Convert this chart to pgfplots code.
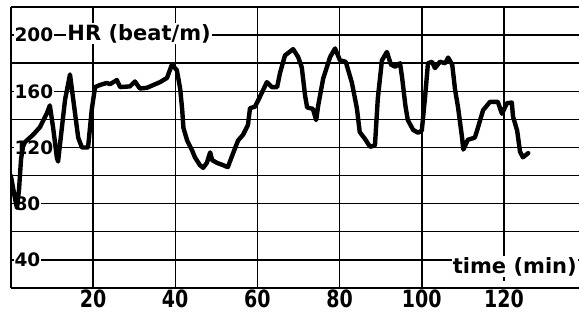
\documentclass[border=0pt]{standalone}
\usepackage{fontspec}
\setmainfont{DejaVu Sans}
\usepackage{graphicx}
\usepackage{pgfplots}
\pgfplotsset{compat=1.18}
\begin{document}
\begin{tikzpicture}
\begin{axis}[
  at={(10.8pt,25pt)}, anchor=south west,
  scale only axis, width=575.4pt, height=281pt,
  xmin=0, xmax=140, ymin=20, ymax=220,
  set layers,
  axis x line=box, axis y line=left,
  axis line style={black, line width=1.6pt, -},
  xtick={20,40,60,80,100,120},
  xticklabels={\scalebox{1}[1.25]{20},\scalebox{1}[1.25]{40},\scalebox{1}[1.25]{60},\scalebox{1}[1.25]{80},\scalebox{1}[1.25]{100},\scalebox{1}[1.25]{120}},
  ytick={40,80,120,160,200},
  yticklabels={40,80,120,160,200},
  minor y tick num=1,
  major tick length=0pt, minor tick length=0pt,
  grid=both,
  major grid style={black, line width=1.4pt},
  minor grid style={black, line width=1.4pt},
  major x grid style={black, line width=1.4pt, shorten <=7pt},
  xticklabel style={font=\fontsize{19}{21}\selectfont\bfseries, anchor=north, inner sep=1pt, yshift=-1pt},
  yticklabel style={font=\fontsize{18.5}{20}\selectfont\bfseries, anchor=west, inner sep=1pt, xshift=2.5pt, fill=white},
  xlabel={time (min)},
  ylabel={HR (beat/m)},
  every axis x label/.style={at={(axis description cs:0.9857,0.053)}, anchor=base east, fill=white, inner sep=1pt, font=\fontsize{21}{23}\selectfont\bfseries},
  every axis y label/.style={at={(axis description cs:0.0964,0.882)}, anchor=base west, fill=white, inner sep=1pt, font=\fontsize{21}{23}\selectfont\bfseries},
]
\addplot[black, line width=4.4pt, line join=round, line cap=round] coordinates {
(0,100) (0.5,92) (1,84) (1.5,77) (2,90) (2.5,112) (3,121) (3.5,124) (5.4,129) (7.1,134.5)
(8.8,144.5) (9.5,150) (10.3,134) (11.2,113) (11.5,110) (12,123) (13.2,154) (14.4,172) (15.2,154)
(16.4,127) (17.3,120) (18.8,120) (19.7,147) (20.5,163) (21.7,164.5) (23.4,166) (24.1,165)
(25.8,168) (26.6,163) (29,163.5) (30.2,167) (31.4,162) (33.1,162.5) (36.3,166.5) (38,169.5)
(39.2,179) (40.4,175) (41.2,162) (41.7,147) (42,134) (42.9,125) (44.1,118) (44.8,113)
(46,107.5) (46.8,105.5) (47.7,109) (48.5,116.5) (49,111) (50.2,109) (51.6,107.5) (52.8,106)
(54.1,116) (55.3,125) (56.5,129) (57.7,136) (58.2,148) (59.4,149) (60.6,156) (62.3,166.5)
(63.5,163) (64.8,163) (65.5,173) (66.7,185.5) (68.7,190) (69.9,184.5) (70.8,177) (71.6,157)
(72.1,148.5) (73.5,147.5) (74.3,139.5) (74.8,150) (76,169) (77.7,184.5) (78.9,190.5)
(80.1,182) (81.5,181) (83,166) (84.2,148) (84.9,131) (86.2,126) (87.4,120.5) (88.6,121.5)
(89.3,155) (90.3,182) (91.5,188) (92.5,179) (93.5,177.5) (94.7,180) (95.2,170) (96,150)
(96.6,139.5) (97.9,132.5) (99.1,130.5) (100,132) (100.8,156) (101.5,180) (102.5,181)
(103.2,176.5) (104.4,181) (105.7,180) (106.4,184) (107.4,179) (108.1,161) (108.8,149)
(109.8,127) (110.1,118.5) (111.2,125.5) (112.9,127) (113.7,134.5) (114.9,146.5) (116.6,152.5)
(118.5,152.5) (119.5,144) (120.7,151.5) (121.9,152) (122.2,142) (123.2,132) (123.9,117)
(124.6,113) (125.9,116)
};
\end{axis}
\pgfresetboundingbox
\useasboundingbox (0,0) rectangle (579pt,313pt);
\end{tikzpicture}
\end{document}
